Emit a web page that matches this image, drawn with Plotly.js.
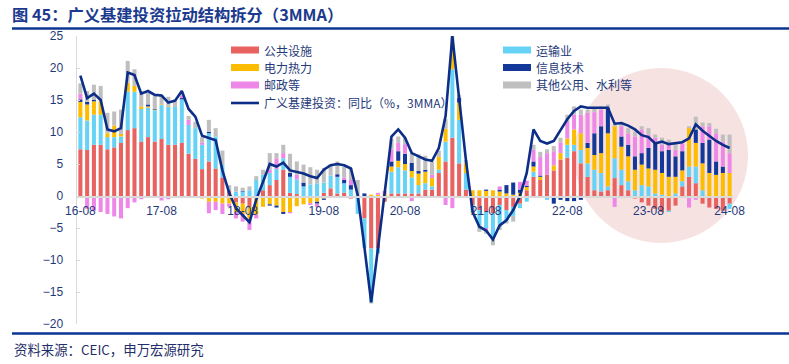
<!DOCTYPE html>
<html>
<head>
<meta charset="utf-8">
<script src="https://cdn.plot.ly/plotly-3.0.1.min.js"></script>
<style>html,body{margin:0;padding:0;background:#fff;}#chart{width:789px;height:364px;}</style>
</head>
<body>
<div id="chart"></div>
<script>
// ---------- DATA ----------
const months = ["16-08","16-09","16-10","16-11","16-12","17-01","17-02","17-03","17-04","17-05","17-06","17-07",
"17-08","17-09","17-10","17-11","17-12","18-01","18-02","18-03","18-04","18-05","18-06","18-07",
"18-08","18-09","18-10","18-11","18-12","19-01","19-02","19-03","19-04","19-05","19-06","19-07",
"19-08","19-09","19-10","19-11","19-12","20-01","20-02","20-03","20-04","20-05","20-06","20-07",
"20-08","20-09","20-10","20-11","20-12","21-01","21-02","21-03","21-04","21-05","21-06","21-07",
"21-08","21-09","21-10","21-11","21-12","22-01","22-02","22-03","22-04","22-05","22-06","22-07",
"22-08","22-09","22-10","22-11","22-12","23-01","23-02","23-03","23-04","23-05","23-06","23-07",
"23-08","23-09","23-10","23-11","23-12","24-01","24-02","24-03","24-04","24-05","24-06","24-07","24-08"];
const tickLabels = ["16-08","17-08","18-08","19-08","20-08","21-08","22-08","23-08","24-08"];

const seriesNames = ["公共设施","运输业","电力热力","信息技术","邮政等","其他公用、水利等"];
const lineName = "广义基建投资：同比（%，3MMA）";

const publicFacilities = [7.3,7.2,8.0,8.0,7.3,7.6,8.3,10.3,10.6,8.5,9.2,8.5,
8.9,8.0,8.0,8.3,6.6,5.8,4.2,5.4,4.3,2.9,0.9,-1.0,
-1.2,-1.7,-0.4,0.9,1.7,2.5,4.1,0.5,0.3,0,0,0,
0.5,1.2,0.4,0.5,-0.4,0,-3.5,-8.2,-8.2,-0.9,0.4,0.4,
0.4,0.4,0.4,1.0,1.0,3.6,5.4,9.1,5.1,1.0,-1.4,-2.2,
-2.5,-2.7,-1.4,-2.2,-1.7,-1.2,0.9,3.0,2.5,3.3,4.0,5.7,
6.0,7.0,5.1,3.0,0.9,0.7,0.9,2.8,1.7,0.9,-0.4,-1.0,
-1.5,-2.0,-2.5,-2.3,-1.5,1.5,3.0,2.0,-1.2,-1.8,-2.0,-2.3,-1.2];
const transport = [5.0,4.6,4.7,4.7,1.9,1.6,1.0,6.0,5.7,5.1,4.6,4.9,
5.3,5.9,5.9,6.8,4.5,4.8,3.8,4.4,5.0,2.0,0.3,0.7,
0.7,0.9,2.5,2.4,1.9,1.7,1.8,2.5,2.3,1.5,1.8,2.0,
1.6,2.0,2.6,1.5,1.0,-2.8,-4.6,-8.4,-0.8,0,3.4,4.1,
3.6,2.5,1.3,1.0,0.5,0.5,3.1,10.7,6.8,2.6,-0.8,-2.4,
-2.5,-3.7,-3.1,-1.8,-1.4,-0.7,-0.9,0.8,-0.3,-0.6,0,0,
2.0,1.0,2.1,2.1,3.2,2.9,0.6,3.1,2.4,1.4,0.9,1.7,
1.5,0.4,0.2,-0.2,0.4,0.8,1.6,2.6,0.9,0,0,0,-0.8];
const power = [2.4,2.5,2.1,2.1,0.6,1.8,0.4,1.4,0.9,0.4,0.2,0.1,
0.1,0.1,-0.1,0,-0.1,-0.1,-0.4,-0.9,-0.9,-1.2,-1.2,-1.5,
-1.6,-1.9,-2.5,-1.7,-1.3,-1.5,-2.5,-2.5,-1.6,-1.3,-1.1,-0.9,
-0.4,-0.2,0,0,0,0,0,0.2,0.2,0.3,0.8,1.0,
1.0,1.0,1.8,1.8,1.3,2.0,2.0,4.2,2.7,1.5,0.9,0.9,
0.8,0.9,0.7,0.4,0.2,0.5,0.5,0.8,0.5,0,0.8,1.0,
1.0,2.4,2.6,2.4,2.3,3.1,8.3,5.0,3.6,3.9,3.2,3.2,
2.8,3.7,3.4,3.0,2.6,1.7,6.0,3.7,4.2,3.6,3.3,3.6,3.6];
const infoTech = [0.4,0.4,0.2,-0.1,-0.1,-0.1,-0.1,0,0,0,0.3,0.1,
-0.1,0,0,0.2,0,0,0,0.2,0,0,0,0,
0.1,0,0,0,-0.2,-0.3,-0.3,0.6,0,0.6,0,-0.3,
-0.2,0,0.4,0.5,0.7,0,0.4,0,0,0,0.8,1.5,
1.6,1.3,0.4,0.3,0,0,0,0,0.7,0,0,0,
0.2,0,0.3,1.3,1.9,0.5,0.2,0.8,0.2,0,-1.2,-0.6,
-0.8,-0.8,-0.6,0.8,3.4,4.2,4.0,0,1.6,1.8,2.1,1.8,
3.2,4.2,3.4,4.2,3.2,3.0,-0.2,2.1,3.2,5.2,2.1,1.0,0];
const postal = [0.9,-2.0,-2.3,-2.4,-2.7,-3.1,-3.4,-1.9,-1.0,-0.5,-0.3,-0.2,
-0.6,-0.5,0,0.4,0.8,0,0.4,-1.8,-1.3,-1.6,-0.5,-1.0,
-1.2,-1.7,-0.6,0,0.5,1.7,0.8,-0.2,0.7,0,-0.3,-0.5,
0,0,0,0.4,0.8,0,0,0,0.3,0.5,1.9,1.3,
1.5,-0.8,0,0,0.5,0,-1.4,-1.9,0,0,0,0,
-0.3,0,0.5,0,0,1.2,0.8,1.8,2.9,3.4,2.2,1.7,
2.7,2.3,2.9,4.7,3.3,2.6,0,-1.7,1.6,1.8,3.1,3.7,
2.1,0.8,1.0,0.8,1.0,1.2,-1.6,-0.6,2.6,2.1,4.4,3.9,3.1];
const others = [1.6,1.7,2.4,2.4,3.2,2.2,3.8,3.4,2.6,2.4,1.8,2.0,
1.5,1.5,1.2,0.2,0.6,1.0,0.8,1.9,1.3,2.2,0.5,0.8,
0.5,0.6,0.6,0.8,2.6,0.8,1.3,3.0,2.1,2.8,2.7,2.1,
2.3,1.7,2.0,1.7,1.8,2.5,0,-0.2,0,0,1.6,1.0,
1.0,1.5,2.6,2.2,2.0,1.0,1.5,1.1,0.5,0.5,-0.5,-1.0,
-0.6,-1.3,-0.8,-0.3,-0.9,0,0,0.8,0.8,0.6,0.8,0.7,
1.0,1.3,0.8,0.5,0.7,0.5,0.5,0.3,0.5,0.8,0.8,0.5,
1.0,0.5,1.1,0.8,1.1,0,0.3,2.0,0.6,0.5,0.7,1.1,2.9];
const infraYoY = [18.8,15.3,16.0,15.0,10.4,10.1,10.6,19.3,18.9,16.0,16.4,15.8,
15.7,14.6,14.9,16.4,13.6,12.4,9.4,9.1,8.7,4.0,0.5,-1.9,
-3.0,-4.1,-0.6,2.3,5.0,4.6,5.2,4.0,3.8,3.5,3.1,2.8,
4.1,4.8,5.0,4.8,4.3,0.2,-8.0,-16.6,-8.2,1.0,9.3,10.4,
9.1,6.7,6.2,5.7,5.5,7.5,12.5,25.0,15.3,5.7,-2.5,-4.8,
-5.4,-6.8,-4.6,-3.8,-2.2,0.0,3.6,10.4,8.6,8.2,8.6,10.3,
12.0,13.3,14.0,13.8,13.8,13.9,13.8,11.3,11.4,11.0,10.4,9.5,
9.2,8.2,8.5,8.1,8.2,8.4,9.0,11.2,10.2,9.4,8.6,8.0,7.5];

const seriesColors = ["#e8625f","#66d2f6","#fcbd00","#13389a","#ee88e8","#bfbfbf"];
const lineColor = "#0c2d88";
const navy = "#1f3a7a";

// ---------- TRACES ----------
const seriesValues = [publicFacilities, transport, power, infoTech, postal, others];
const traces = seriesValues.map((vals, k) => ({
  type: "bar", x: months, y: vals, name: seriesNames[k],
  marker: {color: seriesColors[k], line: {width: 0}}, showlegend: false, hoverinfo: "x+y+name"
}));
traces.push({
  type: "scatter", mode: "lines", x: months, y: infraYoY, name: lineName,
  line: {color: lineColor, width: 2.6}, showlegend: false
});

// ---------- LAYOUT ----------
const L = 77, R = 733, T = 36, B = 324;
const px = v => (v - L) / (R - L);
const py = v => (B - v) / (B - T);

const shapes = [
  {type: "circle", xref: "paper", yref: "paper", x0: px(574), x1: px(748), y0: py(243), y1: py(68),
   fillcolor: "#f7e2e2", line: {width: 0}, layer: "below"},
  {type: "line", xref: "paper", yref: "paper", x0: px(12), x1: px(789), y0: py(28.5), y1: py(28.5),
   line: {color: "#0d3593", width: 2.5}},
  {type: "line", xref: "paper", yref: "paper", x0: px(12), x1: px(789), y0: py(333.5), y1: py(333.5),
   line: {color: "#0d3593", width: 2.5}}
];
const annotations = [
  {xref: "paper", yref: "paper", x: px(12), y: py(349), xanchor: "left", yanchor: "middle",
   text: "资料来源：CEIC，申万宏源研究", showarrow: false,
   font: {size: 13.4, color: "#1f2f6a", family: "Noto Sans CJK SC, Liberation Sans, sans-serif"}}
];

// custom legend
const legendItems = [
  {k: 0, col: 0, row: 0}, {k: 2, col: 0, row: 1}, {k: 4, col: 0, row: 2}, {k: -1, col: 0, row: 3},
  {k: 1, col: 1, row: 0}, {k: 3, col: 1, row: 1}, {k: 5, col: 1, row: 2}
];
const colSym = [[231, 259], [503, 531]];
const rowY = [50, 67.5, 85, 103];
legendItems.forEach(it => {
  const [sx0, sx1] = colSym[it.col];
  const yy = rowY[it.row];
  if (it.k >= 0) {
    shapes.push({type: "rect", xref: "paper", yref: "paper", x0: px(sx0), x1: px(sx1),
      y0: py(yy + 3.5), y1: py(yy - 3.5), fillcolor: seriesColors[it.k], line: {width: 0}});
  } else {
    shapes.push({type: "line", xref: "paper", yref: "paper", x0: px(sx0), x1: px(sx1),
      y0: py(yy), y1: py(yy), line: {color: lineColor, width: 2.6}});
  }
  annotations.push({xref: "paper", yref: "paper", x: px(sx1 + 3), y: py(yy), xanchor: "left", yanchor: "middle",
    text: it.k >= 0 ? seriesNames[it.k] : lineName, showarrow: false, height: 15,
    font: {size: 12, color: navy, family: "Noto Sans CJK SC, Liberation Sans, sans-serif"}});
});

const layout = {
  width: 789, height: 364,
  margin: {l: L, r: 789 - R, t: T, b: 364 - B, pad: 0},
  paper_bgcolor: "#ffffff", plot_bgcolor: "rgba(0,0,0,0)",
  barmode: "relative", bargap: 0.4,
  font: {family: "Liberation Sans, Arial, Noto Sans CJK SC, sans-serif", color: navy, size: 12},
  title: {text: "<b>图 45：广义基建投资拉动结构拆分（3MMA）</b>", xref: "container", yref: "container",
    x: 12 / 789, xanchor: "left", y: 1 - 15 / 364, yanchor: "middle",
    font: {size: 16.3, color: "#1b3a8e", family: "Noto Sans CJK SC, Liberation Sans, sans-serif"}},
  xaxis: {type: "category", categoryorder: "array", categoryarray: months, range: [-0.5, months.length - 0.5],
    tickmode: "array", tickvals: tickLabels, ticktext: tickLabels,
    anchor: "free", position: 20 / 45, showline: true, linecolor: "#d9d9d9", linewidth: 1.5,
    ticks: "", showgrid: false, zeroline: false, ticklabelstandoff: 3,
    tickfont: {size: 12, color: navy}},
  yaxis: {range: [-20, 25], tickmode: "array", tickvals: [-20,-15,-10,-5,0,5,10,15,20,25],
    showline: true, linecolor: "#d9d9d9", linewidth: 1.5, ticks: "inside", ticklen: 3, tickcolor: "#d9d9d9",
    showgrid: false, zeroline: false, ticklabelstandoff: 10, tickfont: {size: 12, color: navy}},
  shapes: shapes, annotations: annotations, showlegend: false
};

Plotly.newPlot("chart", traces, layout, {staticPlot: true, displayModeBar: false});
</script>
</body>
</html>
